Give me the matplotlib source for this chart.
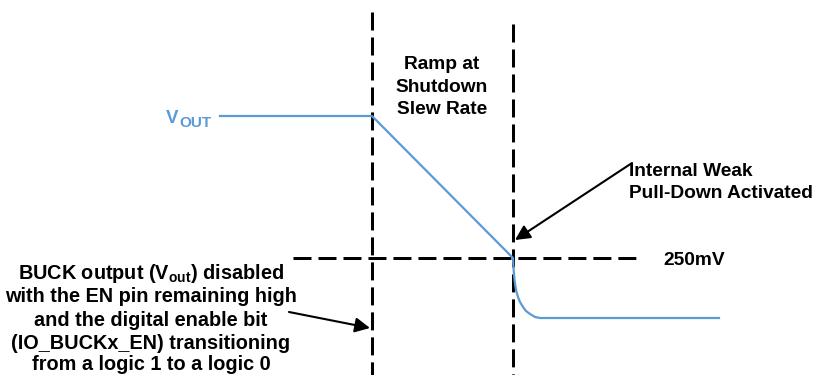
import matplotlib
matplotlib.use("Agg")
import matplotlib.pyplot as plt

plt.rcParams['font.family'] = ['Liberation Sans', 'DejaVu Sans']
plt.rcParams['mathtext.fontset'] = 'custom'
plt.rcParams['mathtext.rm'] = 'Liberation Sans'
plt.rcParams['mathtext.bf'] = 'Liberation Sans:bold'

# ---- data (diagram coordinates: time to the right, voltage downward in picture units)
vout_t = [220, 372, 513, 513.5, 514.5, 516, 518, 520, 523, 526, 530, 535, 540, 719]
vout_v = [116, 116, 258, 268, 280, 290, 297, 302, 307, 311, 314, 317, 318, 318]

event_t = [372, 513]          # disable event, pull-down activation
event_top = [12, 24]
threshold_v = 258             # 250mV level
threshold_span = [293, 640]

BLUE = '#5B9BD5'

fig = plt.figure(figsize=(8.15, 3.75), dpi=100)
ax = fig.add_axes([0, 0, 1, 1])
ax.set_xlim(0, 815)
ax.set_ylim(375, 0)
ax.axis('off')

dash = (0, (6, 2.33))
for x, top in zip(event_t, event_top):
    ax.plot([x, x], [top, 375], color='black', lw=2.16, ls=dash, dash_capstyle='butt')
ax.plot(threshold_span, [threshold_v, threshold_v], color='black', lw=2.16, ls=dash,
        dash_capstyle='butt')

ax.plot(vout_t, vout_v, color=BLUE, lw=1.6, solid_joinstyle='round')

# VOUT label
ax.text(166, 123, 'V', color=BLUE, fontsize=13.5, fontweight='bold', ha='left', va='baseline')
ax.text(179, 127, 'OUT', color=BLUE, fontsize=11, fontweight='bold', ha='left', va='baseline')

fs = 13.8
bold = dict(fontsize=fs, fontweight='bold', color='black', va='baseline')

for s, yb in zip(['Ramp at', 'Shutdown', 'Slew Rate'], [69, 91.5, 114]):
    ax.text(442, yb, s, ha='center', **bold)

ax.text(629, 176, 'Internal Weak', ha='left', **bold)
ax.text(629, 198, 'Pull-Down Activated', ha='left', **bold)
ax.text(663, 265, '250mV', ha='left', **bold)

left_lines = [r'BUCK output (V$_{\mathbf{out}}$) disabled',
              'with the EN pin remaining high',
              'and the digital enable bit',
              '(IO_BUCKx_EN) transitioning',
              'from a logic 1 to a logic 0']
left_bold = dict(bold, fontsize=14.3)
for s, yb in zip(left_lines, [279, 302.5, 326, 349, 370]):
    ax.text(151, yb, s, ha='center', **left_bold)

arrow = dict(arrowstyle='-|>,head_length=0.6,head_width=0.3', mutation_scale=15,
             lw=1.5, color='black', shrinkA=0, shrinkB=0)
ax.annotate('', xy=(370, 328), xytext=(289, 312), arrowprops=arrow)
ax.annotate('', xy=(515, 240), xytext=(632, 163), arrowprops=arrow)

fig.savefig('out.png', dpi=100)
